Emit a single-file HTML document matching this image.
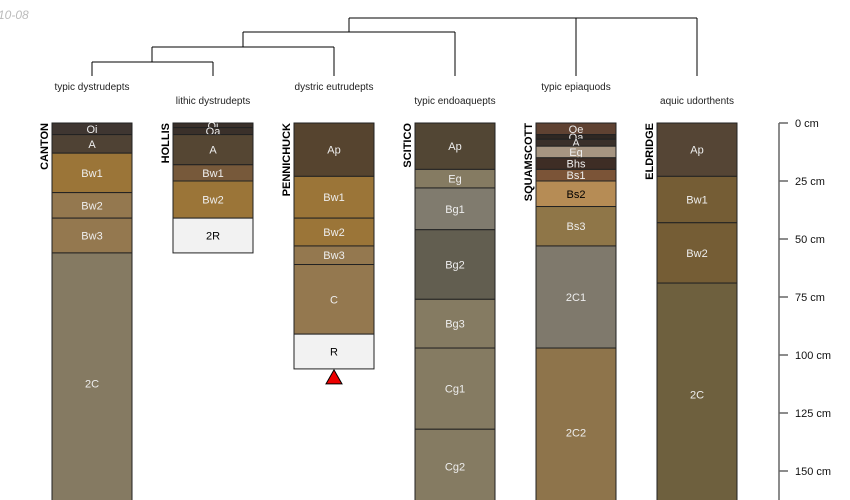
<!DOCTYPE html>
<html><head><meta charset="utf-8"><style>
body{margin:0;background:#fff;}
svg{display:block;font-family:"Liberation Sans",sans-serif;}
</style></head><body>
<svg id="c" width="850" height="500">
<text x="-6" y="19" font-size="12" font-style="italic" fill="#bbb">-10-08</text>
<g id="dend" stroke="#000" fill="none" stroke-width="1"></g>
<g id="profiles"></g>
<g id="axis"></g>
</svg>
<script>
const profileNames=["CANTON","HOLLIS","PENNICHUCK","SCITICO","SQUAMSCOTT","ELDRIDGE"];
const taxa=["typic dystrudepts","lithic dystrudepts","dystric eutrudepts","typic endoaquepts","typic epiaquods","aquic udorthents"];
const horizons=[
 [["Oi",0,5,"#3f3631"],["A",5,13,"#4f4234"],["Bw1",13,30,"#9b7538"],["Bw2",30,41,"#94784f"],["Bw3",41,56,"#94784f"],["2C",56,168.5,"#857a62"]],
 [["Oi",0,2,"#3a302a"],["Oa",2,5,"#3a302a"],["A",5,18,"#554633"],["Bw1",18,25,"#77593a"],["Bw2",25,41,"#9b7538"],["2R",41,56,"#f2f2f2"]],
 [["Ap",0,23,"#56442f"],["Bw1",23,41,"#9b7538"],["Bw2",41,53,"#9b7538"],["Bw3",53,61,"#94784f"],["C",61,91,"#94784f"],["R",91,106,"#f2f2f2"]],
 [["Ap",0,20,"#524634"],["Eg",20,28,"#857b62"],["Bg1",28,46,"#807b6e"],["Bg2",46,76,"#625e50"],["Bg3",76,97,"#857b62"],["Cg1",97,132,"#857b62"],["Cg2",132,164,"#857b62"]],
 [["Oe",0,5,"#5f4232"],["Oa",5,7,"#2f2823"],["A",7,10,"#3a302a"],["Eg",10,15,"#a69581"],["Bhs",15,20,"#3e2d25"],["Bs1",20,25,"#7b5437"],["Bs2",25,36,"#b68c55"],["Bs3",36,53,"#8f7648"],["2C1",53,97,"#7f796c"],["2C2",97,170,"#8e744b"]],
 [["Ap",0,23,"#554535"],["Bw1",23,43,"#755d35"],["Bw2",43,69,"#755d35"],["2C",69,165,"#6e603e"]]
];
const depthTicks=[0,25,50,75,100,125,150];
const NS="http://www.w3.org/2000/svg";
const y=d=>123+d*2.32;
const px=i=>52+i*121;
function mk(tag,attrs,parent){const e=document.createElementNS(NS,tag);for(const k in attrs)e.setAttribute(k,attrs[k]);parent.appendChild(e);return e;}
const prof=document.getElementById('profiles');
profileNames.forEach((n,i)=>{
 const g=mk('g',{},prof);
 
 
 const x=px(i);
 horizons[i].forEach(h=>{
  const y1=y(h[1]),y2=y(h[2]);
  const r=mk('rect',{x:x,y:y1,width:80,height:y2-y1,fill:h[3],stroke:"#222","stroke-width":1},g);
  
  
  const dark=(h[3]=="#f2f2f2"||h[3]=="#b68c55");
  const t=mk('text',{x:x+40,y:(y1+y2)/2+4,"font-size":11,"text-anchor":"middle",fill:dark?"#000":"#eee"},g);
  t.textContent=h[0];
  
  
 });
 const nt=mk('text',{x:0,y:0,"font-size":11,"font-weight":"bold","text-anchor":"end",transform:`translate(${x-4},123) rotate(-90)`},g);
 nt.textContent=n;
 
 
 const tt=mk('text',{x:x+40,y:i%2?104:90,"font-size":10,"text-anchor":"middle",fill:"#222"},g);
 tt.textContent=taxa[i];
 
 
});
const last=horizons[2][horizons[2].length-1];
const tri=mk('polygon',{points:`${px(2)+40},${y(last[2])+1} ${px(2)+32},${y(last[2])+15} ${px(2)+48},${y(last[2])+15}`,fill:"#e00",stroke:"#000"},prof);


const dg=document.getElementById('dend');
const lx=i=>px(i)+40;
const segs=[[lx(0),76,lx(0),62],[lx(1),76,lx(1),62],[lx(0),62,lx(1),62],
[152,62,152,47],[lx(2),76,lx(2),47],[152,47,lx(2),47],
[243,47,243,32],[lx(3),76,lx(3),32],[243,32,lx(3),32],
[349,32,349,18],[349,18,lx(5),18],[lx(4),18,lx(4),76],[lx(5),18,lx(5),76]];
segs.forEach(s=>{const l=mk('line',{x1:s[0],y1:s[1],x2:s[2],y2:s[3]},dg);

});
const ax=document.getElementById('axis');
mk('line',{x1:779,y1:y(0),x2:779,y2:500,stroke:"#666","stroke-width":1.5},ax);
depthTicks.forEach(d=>{
 const l=mk('line',{x1:779,y1:y(d),x2:788,y2:y(d),stroke:"#666","stroke-width":1.5},ax);
 
 
 const t=mk('text',{x:795,y:y(d)+4,"font-size":11,fill:"#111"},ax);
 t.textContent=d+" cm";
 
 
});
</script>
</body></html>
